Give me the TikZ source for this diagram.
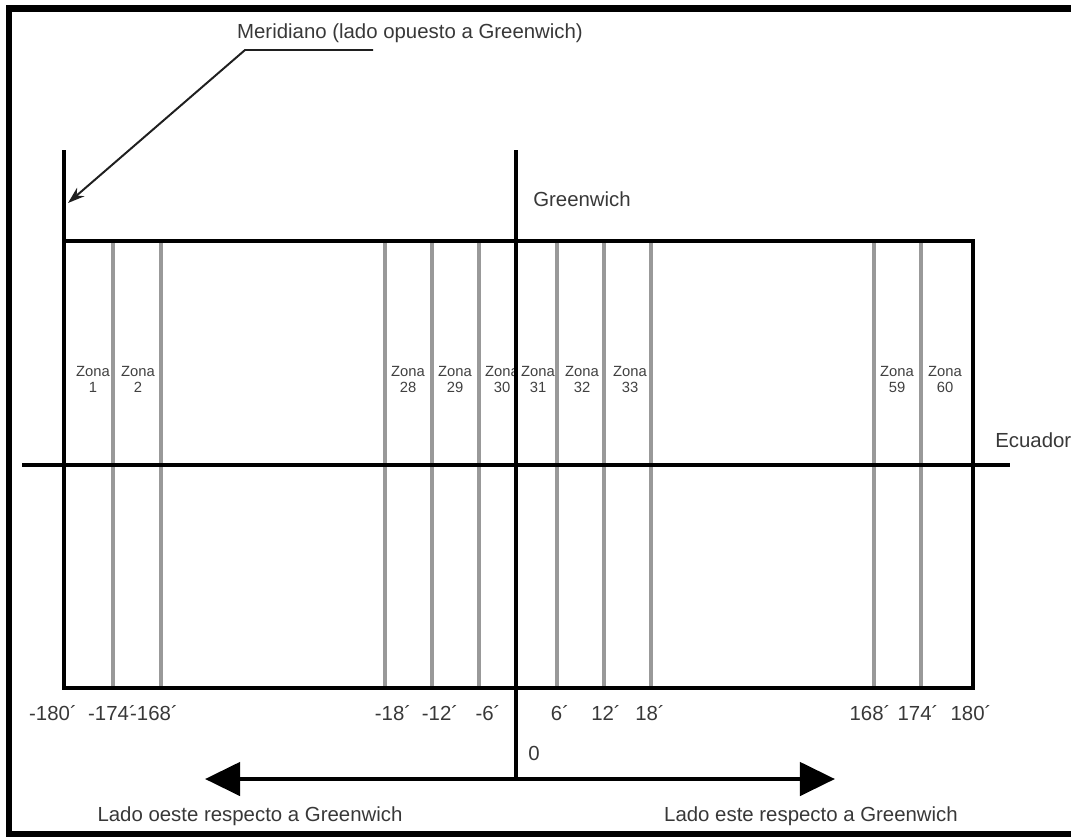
\documentclass[tikz,border=0pt]{standalone}
\usepackage{fontspec}
\setmainfont{Liberation Sans}
\usetikzlibrary{arrows.meta}
\tikzset{%
  meridiano/.style={line width=2.9pt, draw=black},
  zona/.style={line width=2.9pt, draw=gray!80},
  zonalabel/.style={align=center, font=\fontsize{10.5}{11.4}\selectfont, text=black!75, inner sep=0pt},
  etiqueta/.style={font=\fontsize{14.5}{17}\selectfont, text=black!78, inner sep=0pt},
  flecha/.style={line width=3.4pt, -{Triangle[length=25pt, width=23.5pt]}},
  guia/.style={line width=1.4pt, draw=black!88, -{Stealth[length=12pt, width=8pt]}}
}

\begin{document}
\begin{tikzpicture}[x=0.025cm, y=-0.025cm]
\useasboundingbox (0,0) rectangle (1071,836);

% marco
\draw [line width=4.3pt] (1075,8.5) -- (9,8.5) -- (9,834.5) -- (1075,834.5);

\foreach \n/\x in {1/64, 2/113, 3/161, 4/385, 5/432, 6/479, 7/516, 8/557, 9/604, 10/651, 11/874, 12/921, 13/973} {
  \coordinate [] (T\n) at (\x, 241);
  \coordinate [] (B\n) at (\x, 688);
}

\foreach \n in {2,3,4,5,6,8,9,10,11,12} {
  \draw [zona] (T\n) -- (B\n);
}

\foreach \z/\x in {1/93, 2/138, 28/408, 29/455, 31/538, 32/582, 33/630, 59/897, 60/945} {
  \node [zonalabel] (Z\z) at (\x, 379) {Zona\\\z};
}
\begin{scope}
  \clip (470,350) rectangle (514,400);
  \node [zonalabel] (Z30) at (502, 379) {Zona\\30};
\end{scope}

\coordinate (M0) at (64,150);
\coordinate (G0) at (516,150);
\coordinate (G1) at (516,779);
\coordinate (E0) at (22,465);
\coordinate (E1) at (1010,465);
\coordinate (W) at (205,779);
\coordinate (E) at (835,779);

\draw [meridiano] (T1) rectangle (B13);
\draw [meridiano] (M0) -- (T1);
\draw [meridiano] (E0) -- (E1);
\draw [meridiano] (G0) -- (G1);
\draw [flecha] (G1) -- (W);
\draw [flecha] (G1) -- (E);

\node [etiqueta, anchor=base] (meridiano) at (410,38) {Meridiano (lado opuesto a Greenwich)};
\coordinate (L0) at (373,50);
\coordinate (L1) at (245,50);
\coordinate (L2) at (68,203);
\draw [guia] (L0) -- (L1) -- (L2);

\node [etiqueta, anchor=base west] (greenwich) at (533,206) {Greenwich};
\node [etiqueta, anchor=base west] (ecuador) at (995,447) {Ecuador};

\foreach \v/\x in {-180/53, -174/112, -168/154, -18/393, -12/440, -6/488, 6/560, 12/606, 18/650, 168/870, 174/918, 180/971} {
  \node [etiqueta, anchor=base] (N\v) at (\x, 720) {\v´};
}
\node [etiqueta, anchor=base] (cero) at (534,760) {0};

\node [etiqueta, anchor=base] (oeste) at (250,821) {Lado oeste respecto a Greenwich};
\node [etiqueta, anchor=base] (este) at (811,821) {Lado este respecto a Greenwich};
\end{tikzpicture}
\end{document}
